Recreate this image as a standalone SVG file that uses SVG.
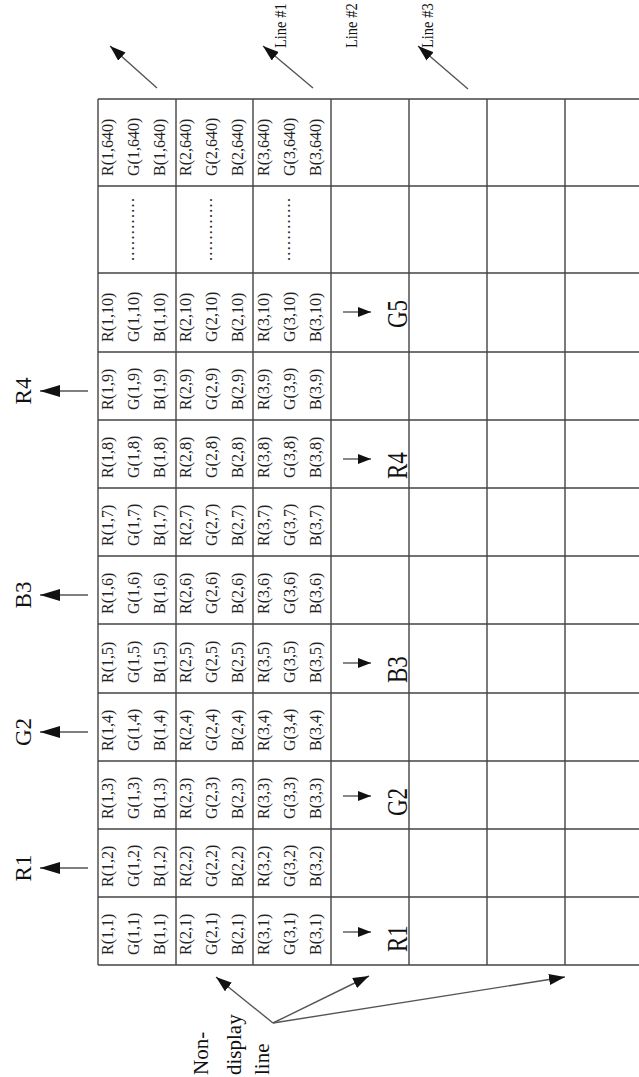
<svg xmlns="http://www.w3.org/2000/svg" width="639" height="1077" viewBox="0 0 639 1077">
<style>
.g{stroke:#444;stroke-width:1.4;fill:none}
.c{font-family:"Liberation Serif",serif;font-size:16px;fill:#222}
.L{font-family:"Liberation Serif",serif;font-size:23px;fill:#111}
.T{font-family:"Liberation Serif",serif;font-size:14.5px;fill:#111}
.a{stroke:#555;stroke-width:1.4;fill:none}
</style>
<defs>
<marker id="big" viewBox="0 0 20 12" refX="20" refY="6" markerWidth="20" markerHeight="12" markerUnits="userSpaceOnUse" orient="auto"><path d="M0,0 L20,6 L0,12 z" fill="#111"/></marker>
<marker id="sm" viewBox="0 0 13 10" refX="13" refY="5" markerWidth="13" markerHeight="10" markerUnits="userSpaceOnUse" orient="auto"><path d="M0,0 L13,5 L0,10 z" fill="#111"/></marker>
<marker id="md" viewBox="0 0 16 11" refX="16" refY="5.5" markerWidth="16" markerHeight="11" markerUnits="userSpaceOnUse" orient="auto"><path d="M0,0 L16,5.5 L0,11 z" fill="#111"/></marker>
</defs>
<rect width="639" height="1077" fill="#fff"/>
<g id="grid" class="g">
<path d="M98,99H639M98,186H639M98,273H639M98,352H639M98,420H639M98,488H639M98,556H639M98,624H639M98,693H639M98,761H639M98,829H639M98,897H639M98,965H639"/>
<path d="M98,99V965M176,99V965M253,99V965M331,99V965M409,99V965M487,99V965M565,99V965"/>
</g>
<g id="row640">
<text class="c" transform="translate(113,176) rotate(-90)">R(1,640)</text><text class="c" transform="translate(139,176) rotate(-90)">G(1,640)</text><text class="c" transform="translate(165,176) rotate(-90)">B(1,640)</text>
<text class="c" transform="translate(191,176) rotate(-90)">R(2,640)</text><text class="c" transform="translate(217,176) rotate(-90)">G(2,640)</text><text class="c" transform="translate(243,176) rotate(-90)">B(2,640)</text>
<text class="c" transform="translate(269,176) rotate(-90)">R(3,640)</text><text class="c" transform="translate(295,176) rotate(-90)">G(3,640)</text><text class="c" transform="translate(321,176) rotate(-90)">B(3,640)</text>
</g>
<g id="rowdots">
<text class="c" transform="translate(134,261) rotate(-90)" textLength="63" lengthAdjust="spacing">............</text>
<text class="c" transform="translate(212,261) rotate(-90)" textLength="63" lengthAdjust="spacing">............</text>
<text class="c" transform="translate(290,261) rotate(-90)" textLength="63" lengthAdjust="spacing">............</text>
</g>
<g id="row10">
<text class="c" transform="translate(113,342) rotate(-90)">R(1,10)</text><text class="c" transform="translate(139,342) rotate(-90)">G(1,10)</text><text class="c" transform="translate(165,342) rotate(-90)">B(1,10)</text>
<text class="c" transform="translate(191,342) rotate(-90)">R(2,10)</text><text class="c" transform="translate(217,342) rotate(-90)">G(2,10)</text><text class="c" transform="translate(243,342) rotate(-90)">B(2,10)</text>
<text class="c" transform="translate(269,342) rotate(-90)">R(3,10)</text><text class="c" transform="translate(295,342) rotate(-90)">G(3,10)</text><text class="c" transform="translate(321,342) rotate(-90)">B(3,10)</text>
</g>
<g id="row9">
<text class="c" transform="translate(113,410) rotate(-90)">R(1,9)</text><text class="c" transform="translate(139,410) rotate(-90)">G(1,9)</text><text class="c" transform="translate(165,410) rotate(-90)">B(1,9)</text>
<text class="c" transform="translate(191,410) rotate(-90)">R(2,9)</text><text class="c" transform="translate(217,410) rotate(-90)">G(2,9)</text><text class="c" transform="translate(243,410) rotate(-90)">B(2,9)</text>
<text class="c" transform="translate(269,410) rotate(-90)">R(3,9)</text><text class="c" transform="translate(295,410) rotate(-90)">G(3,9)</text><text class="c" transform="translate(321,410) rotate(-90)">B(3,9)</text>
</g>
<g id="row8">
<text class="c" transform="translate(113,478) rotate(-90)">R(1,8)</text><text class="c" transform="translate(139,478) rotate(-90)">G(1,8)</text><text class="c" transform="translate(165,478) rotate(-90)">B(1,8)</text>
<text class="c" transform="translate(191,478) rotate(-90)">R(2,8)</text><text class="c" transform="translate(217,478) rotate(-90)">G(2,8)</text><text class="c" transform="translate(243,478) rotate(-90)">B(2,8)</text>
<text class="c" transform="translate(269,478) rotate(-90)">R(3,8)</text><text class="c" transform="translate(295,478) rotate(-90)">G(3,8)</text><text class="c" transform="translate(321,478) rotate(-90)">B(3,8)</text>
</g>
<g id="row7">
<text class="c" transform="translate(113,546) rotate(-90)">R(1,7)</text><text class="c" transform="translate(139,546) rotate(-90)">G(1,7)</text><text class="c" transform="translate(165,546) rotate(-90)">B(1,7)</text>
<text class="c" transform="translate(191,546) rotate(-90)">R(2,7)</text><text class="c" transform="translate(217,546) rotate(-90)">G(2,7)</text><text class="c" transform="translate(243,546) rotate(-90)">B(2,7)</text>
<text class="c" transform="translate(269,546) rotate(-90)">R(3,7)</text><text class="c" transform="translate(295,546) rotate(-90)">G(3,7)</text><text class="c" transform="translate(321,546) rotate(-90)">B(3,7)</text>
</g>
<g id="row6">
<text class="c" transform="translate(113,614) rotate(-90)">R(1,6)</text><text class="c" transform="translate(139,614) rotate(-90)">G(1,6)</text><text class="c" transform="translate(165,614) rotate(-90)">B(1,6)</text>
<text class="c" transform="translate(191,614) rotate(-90)">R(2,6)</text><text class="c" transform="translate(217,614) rotate(-90)">G(2,6)</text><text class="c" transform="translate(243,614) rotate(-90)">B(2,6)</text>
<text class="c" transform="translate(269,614) rotate(-90)">R(3,6)</text><text class="c" transform="translate(295,614) rotate(-90)">G(3,6)</text><text class="c" transform="translate(321,614) rotate(-90)">B(3,6)</text>
</g>
<g id="row5">
<text class="c" transform="translate(113,683) rotate(-90)">R(1,5)</text><text class="c" transform="translate(139,683) rotate(-90)">G(1,5)</text><text class="c" transform="translate(165,683) rotate(-90)">B(1,5)</text>
<text class="c" transform="translate(191,683) rotate(-90)">R(2,5)</text><text class="c" transform="translate(217,683) rotate(-90)">G(2,5)</text><text class="c" transform="translate(243,683) rotate(-90)">B(2,5)</text>
<text class="c" transform="translate(269,683) rotate(-90)">R(3,5)</text><text class="c" transform="translate(295,683) rotate(-90)">G(3,5)</text><text class="c" transform="translate(321,683) rotate(-90)">B(3,5)</text>
</g>
<g id="row4">
<text class="c" transform="translate(113,751) rotate(-90)">R(1,4)</text><text class="c" transform="translate(139,751) rotate(-90)">G(1,4)</text><text class="c" transform="translate(165,751) rotate(-90)">B(1,4)</text>
<text class="c" transform="translate(191,751) rotate(-90)">R(2,4)</text><text class="c" transform="translate(217,751) rotate(-90)">G(2,4)</text><text class="c" transform="translate(243,751) rotate(-90)">B(2,4)</text>
<text class="c" transform="translate(269,751) rotate(-90)">R(3,4)</text><text class="c" transform="translate(295,751) rotate(-90)">G(3,4)</text><text class="c" transform="translate(321,751) rotate(-90)">B(3,4)</text>
</g>
<g id="row3">
<text class="c" transform="translate(113,819) rotate(-90)">R(1,3)</text><text class="c" transform="translate(139,819) rotate(-90)">G(1,3)</text><text class="c" transform="translate(165,819) rotate(-90)">B(1,3)</text>
<text class="c" transform="translate(191,819) rotate(-90)">R(2,3)</text><text class="c" transform="translate(217,819) rotate(-90)">G(2,3)</text><text class="c" transform="translate(243,819) rotate(-90)">B(2,3)</text>
<text class="c" transform="translate(269,819) rotate(-90)">R(3,3)</text><text class="c" transform="translate(295,819) rotate(-90)">G(3,3)</text><text class="c" transform="translate(321,819) rotate(-90)">B(3,3)</text>
</g>
<g id="row2">
<text class="c" transform="translate(113,887) rotate(-90)">R(1,2)</text><text class="c" transform="translate(139,887) rotate(-90)">G(1,2)</text><text class="c" transform="translate(165,887) rotate(-90)">B(1,2)</text>
<text class="c" transform="translate(191,887) rotate(-90)">R(2,2)</text><text class="c" transform="translate(217,887) rotate(-90)">G(2,2)</text><text class="c" transform="translate(243,887) rotate(-90)">B(2,2)</text>
<text class="c" transform="translate(269,887) rotate(-90)">R(3,2)</text><text class="c" transform="translate(295,887) rotate(-90)">G(3,2)</text><text class="c" transform="translate(321,887) rotate(-90)">B(3,2)</text>
</g>
<g id="row1">
<text class="c" transform="translate(113,955) rotate(-90)">R(1,1)</text><text class="c" transform="translate(139,955) rotate(-90)">G(1,1)</text><text class="c" transform="translate(165,955) rotate(-90)">B(1,1)</text>
<text class="c" transform="translate(191,955) rotate(-90)">R(2,1)</text><text class="c" transform="translate(217,955) rotate(-90)">G(2,1)</text><text class="c" transform="translate(243,955) rotate(-90)">B(2,1)</text>
<text class="c" transform="translate(269,955) rotate(-90)">R(3,1)</text><text class="c" transform="translate(295,955) rotate(-90)">G(3,1)</text><text class="c" transform="translate(321,955) rotate(-90)">B(3,1)</text>
</g>
<g id="col4-labels">
<text class="L" transform="translate(407,952) rotate(-90) scale(1,1.25)">R1</text>
<text class="L" transform="translate(407,816) rotate(-90) scale(1,1.25)">G2</text>
<text class="L" transform="translate(407,683) rotate(-90) scale(1,1.25)">B3</text>
<text class="L" transform="translate(407,479) rotate(-90) scale(1,1.25)">R4</text>
<text class="L" transform="translate(407,328) rotate(-90) scale(1,1.25)">G5</text>
</g>
<g id="top-labels">
<text class="L" text-anchor="middle" transform="translate(31,868) rotate(-90)">R1</text>
<text class="L" text-anchor="middle" transform="translate(31,732) rotate(-90)">G2</text>
<text class="L" text-anchor="middle" transform="translate(31,595) rotate(-90)">B3</text>
<text class="L" text-anchor="middle" transform="translate(31,391) rotate(-90)">R4</text>
</g>
<g id="line-labels">
<text class="T" transform="translate(286,48) rotate(-90) scale(1,1.15)">Line #1</text>
<text class="T" transform="translate(357,48) rotate(-90) scale(1,1.15)">Line #2</text>
<text class="T" transform="translate(433,48) rotate(-90) scale(1,1.15)">Line #3</text>
</g>
<g id="nondisplay-label">
<text class="T" style="font-size:21px" transform="translate(208,1075) rotate(-90)">Non-</text>
<text class="T" style="font-size:21px" transform="translate(241,1075) rotate(-90)">display</text>
<text class="T" style="font-size:21px" transform="translate(269,1075) rotate(-90)">line</text>
</g>
<g id="connectors">
<path class="a" d="M88,868H40" marker-end="url(#big)"/>
<path class="a" d="M88,732H40" marker-end="url(#big)"/>
<path class="a" d="M88,595H40" marker-end="url(#big)"/>
<path class="a" d="M88,391H40" marker-end="url(#big)"/>
<path class="a" d="M343,932H371" marker-end="url(#sm)"/>
<path class="a" d="M343,796H371" marker-end="url(#sm)"/>
<path class="a" d="M343,663H371" marker-end="url(#sm)"/>
<path class="a" d="M343,459H371" marker-end="url(#sm)"/>
<path class="a" d="M343,312H371" marker-end="url(#sm)"/>
<path class="a" d="M157,88L110,46" marker-end="url(#md)"/>
<path class="a" d="M313,88L263,46" marker-end="url(#md)"/>
<path class="a" d="M468,89L418,46" marker-end="url(#md)"/>
<path class="a" d="M273,1023L216,977" marker-end="url(#md)"/>
<path class="a" d="M273,1023L369,976" marker-end="url(#md)"/>
<path class="a" d="M273,1023L565,977" marker-end="url(#md)"/>
</g>
</svg>
